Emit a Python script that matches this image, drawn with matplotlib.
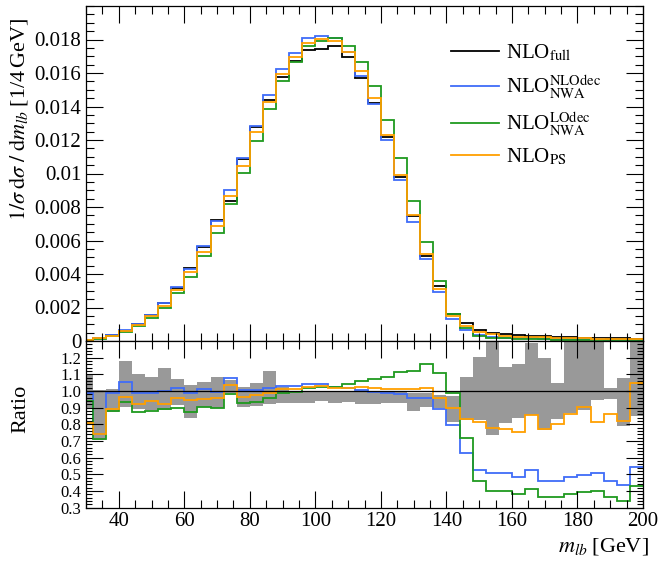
import numpy as np
import matplotlib
matplotlib.use('Agg')
import matplotlib.pyplot as plt
from matplotlib.ticker import MultipleLocator, FixedLocator, FixedFormatter

plt.rcParams['font.family'] = ['Liberation Serif', 'DejaVu Serif']
plt.rcParams['mathtext.fontset'] = 'stix'

# ---------------- data ----------------
edges = [30] + list(range(32, 201, 4))

full = [0.00008, 0.0002, 0.00034, 0.0006, 0.00103, 0.00156, 0.00224, 0.00316, 0.00436, 0.0056,
        0.0072, 0.00836, 0.01084, 0.01278, 0.0144, 0.01576, 0.0167, 0.01736, 0.01746, 0.0176,
        0.01696, 0.0157, 0.0142, 0.01216, 0.0098, 0.00744, 0.0051, 0.00326, 0.00164, 0.00105,
        0.00066, 0.0005, 0.0004, 0.00034, 0.0003, 0.00028, 0.00024, 0.00022, 0.0002, 0.00018,
        0.00016, 0.00015, 0.00013]
nwa_nlodec = [0.00008, 0.00015, 0.00034, 0.00063, 0.00102, 0.00155, 0.00225, 0.00321, 0.00432, 0.00568,
              0.00716, 0.009, 0.0109, 0.01286, 0.01469, 0.01626, 0.0172, 0.01806, 0.0182, 0.01806,
              0.01723, 0.0158, 0.01414, 0.01199, 0.00962, 0.00711, 0.0049, 0.00291, 0.00131, 0.00066,
              0.00035, 0.00026, 0.0002, 0.000165, 0.00016, 0.00013, 0.00011, 0.000107, 0.0001, 0.000092,
              0.000074, 0.000066, 0.000071]
nwa_lodec = [0.000075, 0.00014, 0.0003, 0.00056, 0.0009, 0.00137, 0.002, 0.00284, 0.00382, 0.00507,
             0.00645, 0.0082, 0.01004, 0.01196, 0.01383, 0.01554, 0.01664, 0.01764, 0.0179, 0.01806,
             0.01764, 0.01664, 0.0152, 0.0132, 0.0109, 0.00836, 0.00592, 0.0036, 0.00163, 0.00076,
             0.0003, 0.0002, 0.00016, 0.00013, 0.000123, 0.0001, 0.000087, 0.000084, 0.000078, 0.000071,
             0.000059, 0.000051, 0.000055]
nlo_ps = [0.000065, 0.00015, 0.0003, 0.00058, 0.00095, 0.00147, 0.00206, 0.00302, 0.00412, 0.00534,
          0.00688, 0.00866, 0.01047, 0.01247, 0.01426, 0.01592, 0.01694, 0.01782, 0.01802, 0.0179,
          0.01723, 0.01611, 0.01448, 0.01231, 0.00992, 0.00751, 0.0052, 0.00313, 0.00148, 0.00087,
          0.00054, 0.00039, 0.00031, 0.000256, 0.000257, 0.000216, 0.000192, 0.00019, 0.000181, 0.000147,
          0.000138, 0.000123, 0.000136]

ratio_nlodec = [0.986, 0.74, 0.986, 1.052, 0.99, 0.99, 1.002, 1.016, 0.99, 1.014,
                0.994, 1.076, 1.006, 1.006, 1.02, 1.032, 1.03, 1.042, 1.042, 1.026,
                1.016, 1.006, 0.996, 0.986, 0.982, 0.956, 0.96, 0.892, 0.796, 0.626,
                0.526, 0.51, 0.51, 0.486, 0.526, 0.462, 0.462, 0.486, 0.498, 0.51,
                0.462, 0.437, 0.546]
ratio_lodec = [0.942, 0.71, 0.882, 0.936, 0.876, 0.88, 0.89, 0.898, 0.876, 0.906,
               0.896, 0.98, 0.926, 0.936, 0.96, 0.986, 0.996, 1.016, 1.026, 1.026,
               1.04, 1.062, 1.07, 1.083, 1.112, 1.122, 1.162, 1.106, 0.99, 0.72,
               0.462, 0.398, 0.398, 0.38, 0.41, 0.362, 0.362, 0.382, 0.395, 0.4,
               0.364, 0.342, 0.427]
ratio_ps = [0.81, 0.742, 0.892, 0.966, 0.922, 0.942, 0.92, 0.956, 0.946, 0.954,
            0.956, 1.036, 0.966, 0.976, 0.99, 1.01, 1.014, 1.026, 1.032, 1.016,
            1.016, 1.026, 1.02, 1.012, 1.012, 1.01, 1.02, 0.96, 0.90, 0.832,
            0.812, 0.78, 0.772, 0.752, 0.856, 0.77, 0.802, 0.862, 0.906, 0.816,
            0.862, 0.82, 1.046]
band_lo = [0.9, 0.706, 0.876, 0.906, 0.89, 0.886, 0.886, 0.916, 0.84, 0.906,
           0.896, 0.99, 0.902, 0.912, 0.92, 0.926, 0.926, 0.93, 0.94, 0.926,
           0.934, 0.92, 0.922, 0.93, 0.926, 0.88, 0.906, 0.9, 0.816, 0.826,
           0.826, 0.736, 0.806, 0.836, 0.856, 0.766, 0.832, 0.866, 0.886, 0.946,
           0.95, 0.79, 0.85]
band_hi = [1.1, 1.006, 1.012, 1.182, 1.1, 1.086, 1.136, 1.07, 1.036, 1.056,
           1.082, 1.064, 1.026, 1.05, 1.122, 1.026, 1.0, 1.0, 0.996, 1.0,
           1.0, 1.0, 0.996, 0.996, 0.996, 0.986, 0.986, 0.976, 0.972, 1.086,
           1.206, 1.35, 1.146, 1.16, 1.29, 1.2, 1.046, 1.4, 1.4, 1.4,
           1.015, 1.08, 1.4]

labels = [r'NLO$_{\rm full}$', r'NLO$^{\rm NLOdec}_{\rm NWA}$',
          r'NLO$^{\rm LOdec}_{\rm NWA}$', r'NLO$_{\rm PS}$']
colors = ['black', '#3f6cf8', '#1f9a1f', '#ff9f00']

top_yticks = [0, 0.002, 0.004, 0.006, 0.008, 0.01, 0.012, 0.014, 0.016, 0.018]
top_yticklabels = ['0', '0.002', '0.004', '0.006', '0.008', '0.01', '0.012', '0.014', '0.016', '0.018']
ratio_yticks = [0.3, 0.4, 0.5, 0.6, 0.7, 0.8, 0.9, 1.0, 1.1, 1.2]
ratio_yticklabels = ['0.3', '0.4', '0.5', '0.6', '0.7', '0.8', '0.9', '1.0', '1.1', '1.2']
xticks = [40, 60, 80, 100, 120, 140, 160, 180, 200]

# ---------------- figure ----------------
W, H = 664, 566
fig = plt.figure(figsize=(W / 100, H / 100), dpi=100)
ax = fig.add_axes([86 / W, 1 - 341 / H, 557 / W, 335 / H])
axr = fig.add_axes([86 / W, 1 - 507.5 / H, 557 / W, 166.5 / H], sharex=ax)

lw = 1.3
for vals, c, lab in zip([full, nwa_nlodec, nwa_lodec, nlo_ps], colors, labels):
    ax.stairs(vals, edges, color=c, lw=lw, label=lab, baseline=None)

axr.stairs(band_hi, edges, baseline=band_lo, fill=True, color='#999999', lw=0)
axr.axhline(1.0, color='black', lw=0.9)
for vals, c in zip([ratio_nlodec, ratio_lodec, ratio_ps], colors[1:]):
    axr.stairs(vals, edges, color=c, lw=lw, baseline=None)

fs = 15
lfs = 16
for a in (ax, axr):
    a.set_xlim(30, 200)
    a.xaxis.set_major_locator(FixedLocator(xticks))
    a.xaxis.set_minor_locator(MultipleLocator(5))
    a.tick_params(which='both', direction='in', top=True, right=True, labelsize=fs, width=0.8)
    a.tick_params(which='major', length=12)
    a.tick_params(which='minor', length=6)
    for s in a.spines.values():
        s.set_linewidth(0.9)

ax.tick_params(labelbottom=False)
ax.set_ylim(0, 0.0200)
ax.yaxis.set_major_locator(FixedLocator(top_yticks))
ax.yaxis.set_major_formatter(FixedFormatter(top_yticklabels))
ax.yaxis.set_minor_locator(MultipleLocator(0.0005))

axr.set_ylim(0.3, 1.3)
axr.yaxis.set_major_locator(FixedLocator(ratio_yticks))
axr.yaxis.set_major_formatter(FixedFormatter(ratio_yticklabels))
axr.yaxis.set_minor_locator(MultipleLocator(0.02))
axr.tick_params(axis='y', which='minor', length=4)
axr.tick_params(axis='y', which='major', labelsize=12)
axr.set_xticks(xticks)
axr.set_xticklabels([str(t) for t in xticks])

ax.set_ylabel(r'$1/\sigma\;\mathrm{d}\sigma\;/\;\mathrm{d}m_{lb}\;$[1/4$\,$GeV]', fontsize=lfs, ha='right')
ax.yaxis.set_label_coords(-0.1, 0.964)
axr.set_ylabel('Ratio', fontsize=lfs)
axr.yaxis.set_label_coords(-0.1, 0.59)
axr.set_xlabel(r'$m_{lb}\;$[GeV]', fontsize=lfs, ha='right')
axr.xaxis.set_label_coords(1.01, -0.17)

ax.legend(loc='upper left', bbox_to_anchor=(0.64, 0.915), frameon=False, fontsize=15,
          handlelength=2.3, handletextpad=0.35, labelspacing=0.42, borderaxespad=0)

fig.savefig('out.png', dpi=100)
